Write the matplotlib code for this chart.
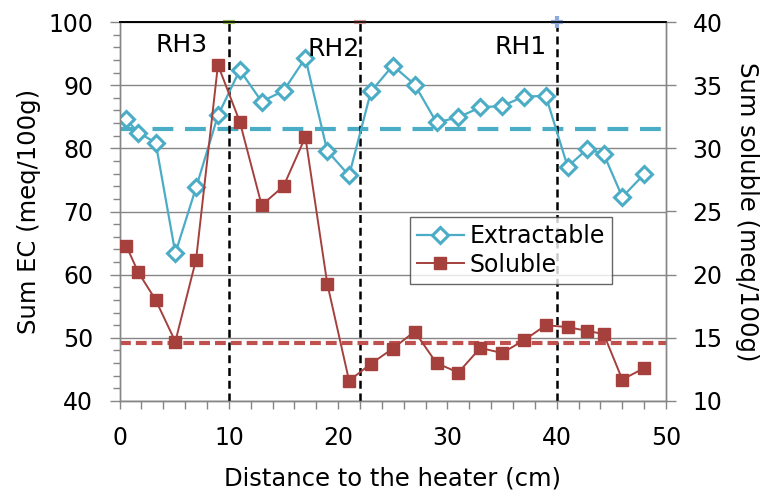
import matplotlib
matplotlib.use("Agg")
import matplotlib.pyplot as plt
from matplotlib.ticker import MultipleLocator

plt.rcParams['font.family'] = ['DejaVu Sans']

# Sampling positions (cm from heater) shared by both series
distance = [0.6, 1.7, 3.3, 5.1, 7.0, 9.0, 11.0, 13.0, 15.0, 17.0, 19.0, 21.0, 23.0,
            25.0, 27.0, 29.0, 31.0, 33.0, 35.0, 37.0, 39.0, 41.0, 42.8, 44.3, 46.0, 48.0]
extractable = [84.6, 82.5, 80.9, 63.4, 73.8, 85.2, 92.4, 87.4, 89.1, 94.3, 79.6, 75.7, 89.0,
               93.1, 90.1, 84.1, 84.9, 86.5, 86.7, 88.2, 88.3, 77.1, 79.9, 79.1, 72.3, 75.9]
soluble = [22.3, 20.2, 18.0, 14.7, 21.2, 36.6, 32.1, 25.5, 27.0, 30.9, 19.3, 11.6, 12.95,
           14.15, 15.5, 13.0, 12.25, 14.2, 13.8, 14.8, 16.0, 15.85, 15.55, 15.3, 11.7, 12.6]

# Reference levels (dashed horizontals)
extractable_ref = 83.0
soluble_ref = 14.6

# Humidity sensor positions
sensor_pos = [10, 22, 40]
sensor_names = ["RH3", "RH2", "RH1"]
sensor_label_x = [5.7, 19.6, 36.7]
sensor_label_y = [96.3, 95.7, 96.0]
sensor_colors = ["#9BBB59", "#D99694", "#8EA9DB"]
sensor_markers = ["_", "_", "+"]

CYAN = "#4BACC6"
RED = "#A5403D"
RED_LIGHT = "#C0504D"
GRAY = "#868686"

fig = plt.figure(figsize=(7.61, 4.93), dpi=100)
ax = fig.add_axes([119.6 / 761, 1 - 401 / 493, (666 - 119.6) / 761, (401 - 22) / 493])
ax2 = ax.twinx()

ax.set_xlim(0, 50)
ax.set_ylim(40, 100)
ax2.set_ylim(10, 40)

# gridlines
ax.yaxis.grid(True, which="major", color=GRAY, lw=1.0)
ax.set_axisbelow(True)

# sensor lines
for xp, c, m in zip(sensor_pos, sensor_colors, sensor_markers):
    ax.plot([xp, xp], [40, 100], color="black", lw=1.8, dashes=(3.2, 1.9), zorder=3)
    ax.plot([xp], [100], marker=m, color=c, ms=9, mew=3, clip_on=False, zorder=5)
for x, y, t in zip(sensor_label_x, sensor_label_y, sensor_names):
    ax.text(x, y, t, ha="center", va="center", fontsize=18, zorder=6)

# reference levels
ax.plot([0, 50], [extractable_ref] * 2, color=CYAN, lw=3.0, dashes=(5, 2.8), zorder=2)
ax2.plot([0, 50], [soluble_ref] * 2, color=RED_LIGHT, lw=3.0, dashes=(2.6, 1.2), zorder=2)

# data series
l1, = ax.plot(distance, extractable, color=CYAN, lw=1.6, marker="D", ms=8.6,
              mfc="white", mec=CYAN, mew=2.2, label="Extractable", zorder=4)
l2, = ax2.plot(distance, soluble, color=RED, lw=1.4, marker="s", ms=9,
               mfc=RED, mec=RED, label="Soluble", zorder=4)

# ticks
ax.xaxis.set_major_locator(MultipleLocator(10))
ax.xaxis.set_minor_locator(MultipleLocator(2))
ax.yaxis.set_major_locator(MultipleLocator(10))
ax.yaxis.set_minor_locator(MultipleLocator(2))
ax2.yaxis.set_major_locator(MultipleLocator(5))

ax.tick_params(axis="x", which="both", direction="out", length=6, width=1, color=GRAY,
               labelsize=17, pad=12)
ax.tick_params(axis="y", which="major", direction="out", length=7, width=1, color=GRAY,
               labelsize=17, pad=12)
ax.tick_params(axis="y", which="minor", direction="out", length=5, width=1, color=GRAY)
ax2.tick_params(axis="y", which="major", direction="out", length=7, width=1, color=GRAY,
                labelsize=17, pad=12)

for a in (ax, ax2):
    for s in ("left", "right", "bottom"):
        a.spines[s].set_color(GRAY)
        a.spines[s].set_linewidth(1.0)
    a.spines["top"].set_color("black")
    a.spines["top"].set_linewidth(1.2)

ax.set_xlabel("Distance to the heater (cm)", fontsize=17.5, labelpad=12)
ax.set_ylabel("Sum EC (meq/100g)", fontsize=17.5, labelpad=5)
ax2.set_ylabel("Sum soluble (meq/100g)", fontsize=17.5, rotation=270, labelpad=26)

leg = ax2.legend(handles=[l1, l2], loc="upper left", bbox_to_anchor=(0.531, 0.486),
                 borderaxespad=0, fontsize=17, frameon=True, fancybox=False,
                 handlelength=2.0, handletextpad=0.25, borderpad=0.3, labelspacing=0.2)
leg.get_frame().set_edgecolor("#404040")
leg.get_frame().set_linewidth(1.0)
leg.set_zorder(10)

fig.savefig("out.png", dpi=100)
